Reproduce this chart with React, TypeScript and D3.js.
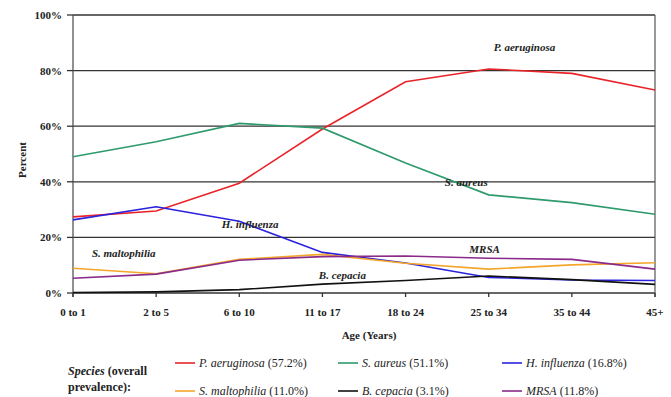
import React from "react";
import * as d3 from "d3";

const ageGroups = ["0 to 1", "2 to 5", "6 to 10", "11 to 17", "18 to 24", "25 to 34", "35 to 44", "45+"];
const yTicks = [0, 20, 40, 60, 80, 100];

const pAeruginosa = [27.4, 29.5, 39.5, 59.0, 76.0, 80.6, 79.0, 73.0];
const sAureus = [49.0, 54.4, 61.0, 59.3, 46.8, 35.3, 32.5, 28.3];
const hInfluenza = [26.3, 31.0, 25.8, 14.6, 10.8, 5.6, 4.7, 4.5];
const sMaltophilia = [8.9, 6.9, 12.1, 13.9, 10.7, 8.6, 10.1, 10.9];
const bCepacia = [0.2, 0.4, 1.2, 3.2, 4.5, 6.1, 4.8, 3.1];
const mrsa = [5.3, 6.8, 11.8, 13.1, 13.3, 12.5, 12.1, 8.6];

const seriesNames = ["P. aeruginosa", "S. aureus", "H. influenza", "S. maltophilia", "B. cepacia", "MRSA"];
const prevalence = ["57.2%", "51.1%", "16.8%", "11.0%", "3.1%", "11.8%"];
const seriesColors = ["#e8242a", "#2f9a6c", "#2a22dd", "#f4a62a", "#111111", "#8a2a8a"];
const seriesData = [pAeruginosa, sAureus, hInfluenza, sMaltophilia, bCepacia, mrsa];

const annotations = [
  { i: 0, at: 5.43, v: 87.0 },
  { i: 1, at: 4.73, v: 38.5 },
  { i: 2, at: 2.13, v: 23.3 },
  { i: 3, at: 0.61, v: 12.9 },
  { i: 5, at: 4.95, v: 14.5 },
  { i: 4, at: 3.24, v: 5.1 },
];

const font = 'Liberation Serif, Tinos, Times New Roman, Times, DejaVu Serif, Noto Serif, serif';
const ts: React.CSSProperties = { fontFamily: font };

export default function App() {
  const W = 671, H = 397;
  const x0 = 73, x1 = 655, yTop = 15, yBot = 293;
  const x = d3.scalePoint<string>().domain(ageGroups).range([x0, x1]);
  const xi = d3.scaleLinear().domain([0, ageGroups.length - 1]).range([x0, x1]);
  const y = d3.scaleLinear().domain([0, 100]).range([yBot, yTop]);
  const line = d3.line<number>().x((_, i) => x(ageGroups[i]) as number).y((d) => y(d));

  const legendPos = [
    { lx: 175, ly: 363 },
    { lx: 338, ly: 363 },
    { lx: 502, ly: 363 },
    { lx: 175, ly: 391 },
    { lx: 338, ly: 391 },
    { lx: 502, ly: 391 },
  ];

  return (
    <svg width={W} height={H} style={{ position: "absolute", left: 0, top: 0, background: "#fff", fontFamily: font }}>
      {yTicks.map((t) => (
        <line key={t} x1={x0} x2={x1} y1={y(t)} y2={y(t)} stroke="#333" strokeWidth={1.3} />
      ))}
      <line x1={x1} x2={x1} y1={yTop} y2={yBot + 4} stroke="#555" strokeWidth={1.2} />
      <line x1={x0} x2={x0} y1={yTop} y2={yBot + 4} stroke="#555" strokeWidth={1.3} />
      {yTicks.map((t) => (
        <g key={"yt" + t}>
          <line x1={x0 - 6} x2={x0} y1={y(t)} y2={y(t)} stroke="#333" strokeWidth={1.3} />
          <text style={ts} x={x0 - 11} y={y(t) + 4} textAnchor="end" fontSize={11} fontWeight="bold" fill="#222">
            {t}%
          </text>
        </g>
      ))}
      {ageGroups.map((g) => (
        <g key={g}>
          <line x1={x(g)} x2={x(g)} y1={yBot} y2={yBot + 4} stroke="#333" strokeWidth={1.3} />
          <text style={ts} x={x(g)} y={yBot + 23} textAnchor="middle" fontSize={11} fontWeight="bold" fill="#222">
            {g}
          </text>
        </g>
      ))}
      {seriesData.map((d, i) => (
        <path key={i} d={line(d) || ""} fill="none" stroke={seriesColors[i]} strokeWidth={1.6} />
      ))}
      {annotations.map((a) => (
        <text
          key={a.i}
          style={ts}
          x={xi(a.at)}
          y={y(a.v)}
          textAnchor="middle"
          fontSize={11}
          fontWeight="bold"
          fontStyle="italic"
          fill="#222"
        >
          {seriesNames[a.i]}
        </text>
      ))}
      <text style={ts} transform={`translate(26,160) rotate(-90)`} textAnchor="middle" fontSize={11} fontWeight="bold" fill="#222">
        Percent
      </text>
      <text style={ts} x={369} y={339} textAnchor="middle" fontSize={11} fontWeight="bold" fill="#222">
        Age (Years)
      </text>
      <text style={ts} x={68} y={375} fontSize={12} fontWeight="bold" fill="#222">
        <tspan fontStyle="italic">Species</tspan> (overall
      </text>
      <text style={ts} x={68} y={391} fontSize={12} fontWeight="bold" fill="#222">
        prevalence):
      </text>
      {seriesNames.map((n, i) => (
        <g key={"lg" + i}>
          <line x1={legendPos[i].lx} x2={legendPos[i].lx + 20} y1={legendPos[i].ly} y2={legendPos[i].ly} stroke={seriesColors[i]} strokeWidth={1.6} />
          <text style={ts} x={legendPos[i].lx + 24} y={legendPos[i].ly + 4} fontSize={12} fill="#222">
            <tspan fontStyle="italic">{n}</tspan> ({prevalence[i]})
          </text>
        </g>
      ))}
    </svg>
  );
}
